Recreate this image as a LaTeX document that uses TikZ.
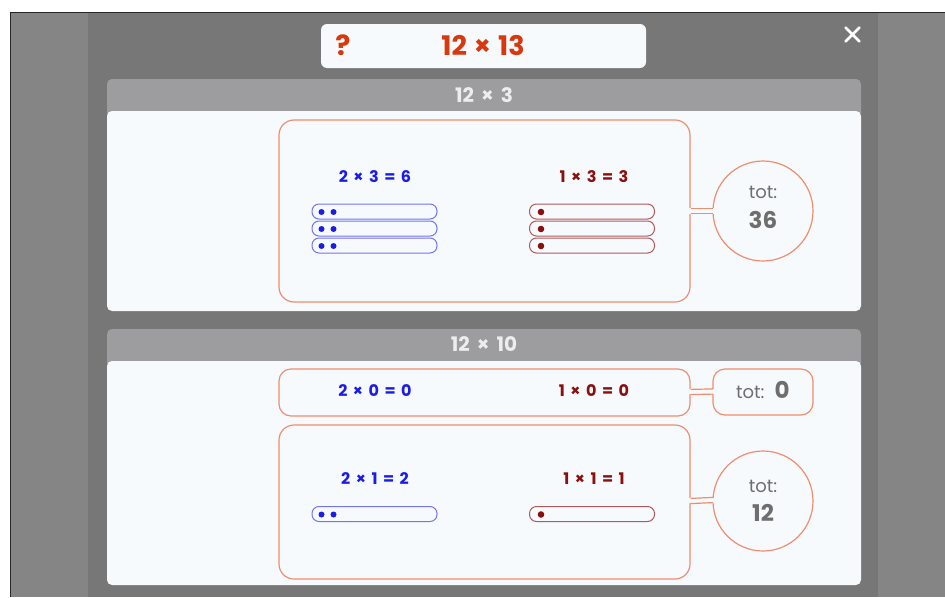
\documentclass[tikz,border=0pt]{standalone}
\usepackage{fontspec}
\setmainfont{Poppins}
\usetikzlibrary{calc}
\definecolor{gouter}{HTML}{858585}
\definecolor{gpanel}{HTML}{777777}
\definecolor{ghdr}{HTML}{9D9D9F}
\definecolor{bodyc}{HTML}{F7FAFC}
\definecolor{ocol}{HTML}{EE8E70}
\definecolor{titlered}{HTML}{D8380E}
\definecolor{eqblue}{HTML}{1C1CE8}
\definecolor{barblue}{HTML}{7474F2}
\definecolor{eqred}{HTML}{8A1010}
\definecolor{barred}{HTML}{B05A5A}
\definecolor{totgray}{HTML}{6E6E6E}
\newcommand{\eqgap}{\hspace{5.5pt}}
\newcommand{\mul}[3]{#1\eqgap×\eqgap#2\eqgap=\eqgap#3}
\tikzset{
  titlebox/.style={fill=bodyc, rounded corners=6, minimum width=325, minimum height=44, inner sep=0},
  hdrtext/.style={text=white!93!black, font=\fontsize{20}{22}\selectfont\bfseries},
  obox/.style={draw=ocol, line width=1.2, fill=bodyc, rounded corners=15, minimum width=411, inner sep=0},
  rowbox/.style={draw=ocol, line width=1.2, fill=bodyc, rounded corners=12, inner sep=0},
  tcirc/.style={draw=ocol, line width=1.2, fill=bodyc, circle, minimum size=100, inner sep=0},
  eqb/.style={text=eqblue, font=\fontsize{16}{18}\selectfont\bfseries},
  eqr/.style={text=eqred, font=\fontsize{16}{18}\selectfont\bfseries},
  bbar/.style={draw=barblue, line width=1, fill=bodyc, rounded corners=7, minimum width=125, minimum height=15, inner sep=0},
  rbar/.style={draw=barred, line width=1, fill=bodyc, rounded corners=7, minimum width=125, minimum height=15, inner sep=0},
  totlbl/.style={text=totgray, font=\fontsize{18}{20}\selectfont},
  totnum/.style={text=totgray, font=\fontsize{23}{25}\selectfont\bfseries},
}
\newcommand{\bridge}[3]{%
  \fill[bodyc] ($(#1.east)+(-2,#3-2.6)$) rectangle ($(#2.west)+(3,#3+2.6)$);
  \draw[ocol, line width=1.2] ($(#1.east)+(0,#3-2.6)$) -- ($(#2.west)+(0.4,#3-2.6)$);
  \draw[ocol, line width=1.2] ($(#1.east)+(0,#3+2.6)$) -- ($(#2.west)+(0.4,#3+2.6)$);
}
\begin{document}
\begin{tikzpicture}[x=1pt,y=-1pt]
\useasboundingbox (0,0) rectangle (945,597);
\fill[white] (0,0) rectangle (945,597);
\fill[gouter] (10,12) rectangle (945,597);
\fill[gpanel] (88,12) rectangle (878,597);
\draw[black!85, line width=1] (10,597) -- (10,12) -- (945,12);

% title
\node[titlebox] (title) at (483.5,46) {};
\node[text=titlered, font=\fontsize{28}{30}\selectfont\bfseries] (qmark) at (343,45) {?};
\node[text=titlered, font=\fontsize{27}{30}\selectfont\bfseries] (titletext) at (483,45) {12\hspace{7pt}×\hspace{7pt}13};
\draw[white, line width=2.6, line cap=round] (845.5,27.5) -- (859.5,41.5) (859.5,27.5) -- (845.5,41.5);

% section 1
\fill[ghdr, rounded corners=5] (107,79) rectangle (861,118);
\fill[bodyc, rounded corners=5] (107,111) rectangle (861,311);
\node[hdrtext] (h1) at (484,95) {12\hspace{7pt}×\hspace{7pt}3};
\node[obox, minimum height=182] (box1) at (484.5,211) {};
\node[tcirc] (c1) at (763,211) {};
\bridge{box1}{c1}{0}
\node[totlbl] (t1) at (763,192) {tot:};
\node[totnum] (n1) at (763,220) {36};
\node[eqb] (e1) at (375,177) {\mul{2}{3}{6}};
\node[eqr] (e2) at (594,177) {\mul{1}{3}{3}};
\foreach \y [count=\i] in {211.5,228.5,245.5}{
  \node[bbar] (bb\i) at (374.5,\y) {};
  \fill[eqblue] ($(bb\i.west)+(10,0.5)$) circle (3) ($(bb\i.west)+(22,0.5)$) circle (3);
  \node[rbar] (rb\i) at (592,\y) {};
  \fill[eqred] ($(rb\i.west)+(12,0.5)$) circle (3.3);
}

% section 2
\fill[ghdr, rounded corners=5] (107,329) rectangle (861,368);
\fill[bodyc, rounded corners=5] (107,361) rectangle (861,585);
\node[hdrtext] (h2) at (484,344) {12\hspace{7pt}×\hspace{7pt}10};
\node[rowbox, minimum width=411, minimum height=47] (row0) at (484.5,392.5) {};
\node[rowbox, minimum width=100, minimum height=46] (tot0) at (763,392) {};
\bridge{row0}{tot0}{-0.5}
\node[eqb] (e3) at (375,391) {\mul{2}{0}{0}};
\node[eqr] (e4) at (594,391) {\mul{1}{0}{0}};
\node[totlbl, anchor=base east] (t0) at (768,398) {tot:};
\node[totnum, anchor=base west] (n0) at (771,398) {0};

\node[obox, minimum height=154] (box2) at (484.5,502) {};
\node[tcirc] (c2) at (763,501) {};
\bridge{box2}{c2}{-1}
\node[totlbl] (t2) at (763,486) {tot:};
\node[totnum] (n2) at (763,513) {12};
\node[eqb] (e5) at (375,479) {\mul{2}{1}{2}};
\node[eqr] (e6) at (594,479) {\mul{1}{1}{1}};
\node[bbar] (bb4) at (374.5,514) {};
\fill[eqblue] ($(bb4.west)+(10,0.5)$) circle (3) ($(bb4.west)+(22,0.5)$) circle (3);
\node[rbar] (rb4) at (592,514) {};
\fill[eqred] ($(rb4.west)+(12,0.5)$) circle (3.3);
\end{tikzpicture}
\end{document}
